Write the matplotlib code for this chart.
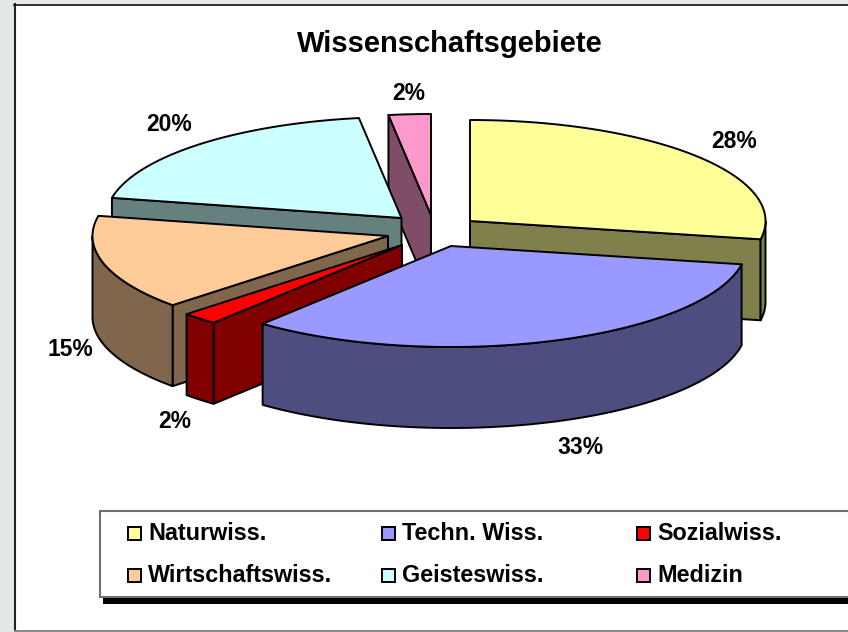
import numpy as np
import matplotlib
matplotlib.use("Agg")
import matplotlib.pyplot as plt
from matplotlib.patches import Rectangle, Polygon

categories = ["Naturwiss.", "Techn. Wiss.", "Sozialwiss.", "Wirtschaftswiss.", "Geisteswiss.", "Medizin"]
values = [27.9, 33.1, 2.0, 15.2, 19.5, 2.3]
top_colors = ["#FFFF99", "#9999FF", "#FF0000", "#FFCC99", "#CCFFFF", "#FF99CC"]
side_colors = ["#80804D", "#4D4D80", "#800000", "#80664D", "#668080", "#804D66"]
title = "Wissenschaftsgebiete"

# layout (pixels)
W, H = 848, 632
RX, RY, DEPTH = 295.5, 101.0, 81.0
apex_x = [470, 451, 402, 388, 401.5, 431]
apex_y = [221, 246, 245, 236, 218, 215]
label_pos = [(734, 142), (580, 447), (175, 422), (70, 350), (169, 124.5), (409, 93)]
draw_order = [5, 0, 4, 3, 2, 1]
legend_cols = [128, 382, 637]
legend_rows = [533, 575]

FONT = "Liberation Sans"
fig = plt.figure(figsize=(W / 100, H / 100), dpi=100, facecolor="#E4E9E6")
ax = fig.add_axes([0, 0, 1, 1])
ax.set_xlim(0, W)
ax.set_ylim(H, 0)
ax.axis("off")

# outer frame: dark left and top, grey bottom
ax.add_patch(Rectangle((15, 4), W, H - 4, fc="white", ec="none", zorder=0))
ax.plot([14.5, 14.5], [4, H], color="#222222", lw=1.5, zorder=0.5)
ax.plot([14, W], [4.5, 4.5], color="#111111", lw=1.2, zorder=0.5)
ax.plot([15, W], [631, 631], color="#888888", lw=1.4, zorder=0.5)
ax.text(450, 44.5, title, fontsize=21, fontweight="bold", family=FONT, ha="center", va="center")

fracs = np.array(values) / sum(values) * 360
ends = np.cumsum(fracs)
starts = ends - fracs
LW = 1.4


def pt(i, deg):
    r = np.radians(deg)
    return apex_x[i] + RX * np.sin(r), apex_y[i] - RY * np.cos(r)


def arc(i, a, b):
    ds = np.linspace(a, b, max(int(abs(b - a)) * 2, 2) + 1)
    return np.array([pt(i, d) for d in ds])


zo = 1
for i in draw_order:
    a, b = starts[i], ends[i]
    apex = np.array([apex_x[i], apex_y[i]])
    drop = np.array([0, DEPTH])
    # radial wall on the start edge, for slices on the left half
    if a >= 180:
        p = np.array(pt(i, a))
        ax.add_patch(Polygon([apex, p, p + drop, apex + drop], fc=side_colors[i], ec="black", lw=LW, joinstyle="round", zorder=zo))
    # radial wall on the end edge, for slices ending on the right half
    if b < 180:
        p = np.array(pt(i, b))
        ax.add_patch(Polygon([apex, p, p + drop, apex + drop], fc=side_colors[i], ec="black", lw=LW, joinstyle="round", zorder=zo))
    # rim on the front half
    lo, hi = max(a, 90), min(b, 270)
    if lo < hi:
        rim = arc(i, lo, hi)
        ax.add_patch(Polygon(np.vstack([rim, rim[::-1] + drop]), fc=side_colors[i], ec="black", lw=LW, joinstyle="round", zorder=zo))
    # top surface
    ax.add_patch(Polygon(np.vstack([apex, arc(i, a, b)]), fc=top_colors[i], ec="black", lw=LW, joinstyle="round", zorder=zo + 0.5))
    zo += 1

for v, (x, y) in zip(values, label_pos):
    ax.text(x, y, f"{round(v)}%", fontsize=16.5, fontweight="bold", family=FONT, ha="center", va="center", zorder=20)

# legend
ax.add_patch(Rectangle((102.5, 597), W, 7, fc="black", ec="none", zorder=21))
ax.add_patch(Rectangle((99.5, 511), W, 86, fc="white", ec="#707070", lw=1.5, zorder=22))
for k, name in enumerate(categories):
    x = legend_cols[k % 3]
    y = legend_rows[k // 3]
    ax.add_patch(Rectangle((x, y - 6.5), 13, 13, fc=top_colors[k], ec="black", lw=1.4, zorder=23))
    ax.text(x + 20, y, name, fontsize=16.8, fontweight="bold", family=FONT, ha="left", va="center", zorder=23)

fig.savefig("out.png", dpi=100, facecolor=fig.get_facecolor())
